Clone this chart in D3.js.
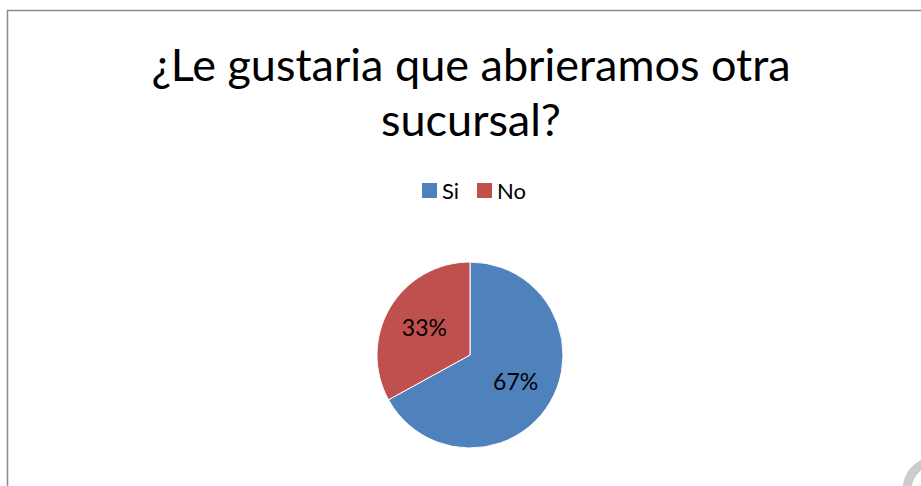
<!DOCTYPE html>
<html lang="es">
<head>
<meta charset="UTF-8">
<title>¿Le gustaria que abrieramos otra sucursal?</title>
<script src="https://cdn.jsdelivr.net/npm/d3@7"></script>
<style>
  body { margin: 0; background: #fff; }
  svg { display: block; font-family: Lato, "Open Sans", sans-serif; }
</style>
</head>
<body>
<svg id="chart" width="921" height="486"></svg>
<script>
// chart data
const titleLines = ["¿Le gustaria que abrieramos otra", "sucursal?"];
const categories = ["Si", "No"];
const values = [67, 33];
const colors = ["#4F81BD", "#C0504D"];

const svg = d3.select("#chart");

// outer frame (only left and top edges are visible)
svg.append("path")
  .attr("d", "M7.5,486 V10.5 H921")
  .attr("fill", "none")
  .attr("stroke", "#8c8c8c")
  .attr("stroke-width", 1.5);

// title
svg.append("text")
  .attr("x", 471)
  .attr("y", 81)
  .attr("text-anchor", "middle")
  .attr("font-size", 45)
  .attr("fill", "#000")
  .selectAll("tspan")
  .data(titleLines)
  .join("tspan")
  .attr("x", 471)
  .attr("dy", (d, i) => i === 0 ? 0 : 55)
  .text(d => d);

// legend
const legend = svg.append("g").attr("transform", "translate(422,183)");
const legendX = [0, 55];
const item = legend.selectAll("g")
  .data(categories)
  .join("g")
  .attr("transform", (d, i) => `translate(${legendX[i]},0)`);
item.append("rect")
  .attr("width", 15)
  .attr("height", 15)
  .attr("fill", (d, i) => colors[i]);
item.append("text")
  .attr("x", 20)
  .attr("y", 16)
  .attr("font-size", 22)
  .text(d => d);

// pie
const cx = 470, cy = 355, r = 93;
const pie = d3.pie().sort(null).value(d => d)(values);
const arc = d3.arc().innerRadius(0).outerRadius(r);
const labelArc = d3.arc().innerRadius(r * 0.57).outerRadius(r * 0.57);

const g = svg.append("g").attr("transform", `translate(${cx},${cy})`);
g.selectAll("path")
  .data(pie)
  .join("path")
  .attr("d", arc)
  .attr("fill", (d, i) => colors[i])
  .attr("stroke", "#fff")
  .attr("stroke-width", 1);

const total = d3.sum(values);
g.selectAll("text")
  .data(pie)
  .join("text")
  .attr("transform", d => `translate(${labelArc.centroid(d)})`)
  .attr("text-anchor", "middle")
  .attr("dy", "0.35em")
  .attr("font-size", 23)
  .attr("fill", "#000")
  .text(d => `${Math.round(d.data / total * 100)}%`);

// faint grey ring in the bottom-right corner
svg.append("circle")
  .attr("cx", 936)
  .attr("cy", 490)
  .attr("r", 29)
  .attr("fill", "none")
  .attr("stroke", "#cccccc")
  .attr("stroke-width", 9);
</script>
</body>
</html>
